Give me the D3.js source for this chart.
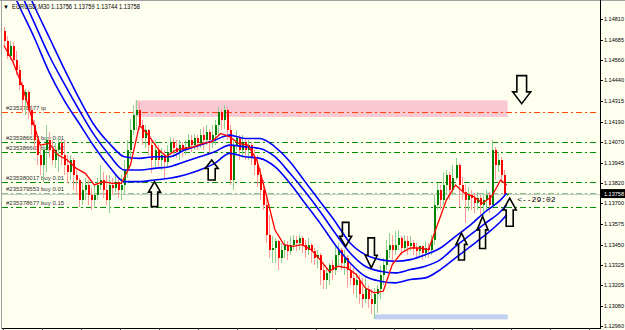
<!DOCTYPE html>
<html lang="en">
<head>
<meta charset="UTF-8" />
<title>EURUSD,M30</title>
<style>
  body { margin: 0; background: #fffff0; }
  svg { display: block; font-family: "Liberation Sans", Arial, sans-serif; }
</style>
</head>
<body>
<script src="https://cdn.jsdelivr.net/npm/d3@7"></script>
<div id="app"></div>
<script>
// ---- data (prices) ----
const symbol = "EURUSD,M30";
const lastQuote = ["1.13756", "1.13759", "1.13744", "1.13758"];
const bidPrice = 1.13758;
const firstOpen = 1.1474;

const closes = [
  1.1468,1.1459,1.1465,1.1456,1.1450,1.1441,1.1432,1.1437,1.1426,1.1417,
  1.1408,1.1399,1.1393,1.1402,1.1408,1.1402,1.1396,1.1402,1.1406,1.1399,
  1.1393,1.1389,1.1396,1.1387,1.1384,1.1372,1.1378,1.1381,1.1375,1.1372,
  1.1375,1.1381,1.1384,1.1378,1.1372,1.1381,1.1379,1.1383,1.1378,1.1381,
  1.1390,1.1402,1.1414,1.1423,1.1426,1.1417,1.1409,1.1414,1.1405,1.1396,
  1.1402,1.1396,1.1399,1.1395,1.1401,1.1407,1.1403,1.1401,1.1405,1.1402,
  1.1404,1.1408,1.1405,1.1409,1.1406,1.1411,1.1408,1.1413,1.1408,1.1411,
  1.1417,1.1425,1.1420,1.1426,1.1414,1.1384,1.1405,1.1409,1.1402,1.1407,
  1.1402,1.1405,1.1397,1.1393,1.1387,1.1378,1.1369,1.1351,1.1342,1.1343,
  1.1347,1.1337,1.1342,1.1345,1.1341,1.1345,1.1348,1.1346,1.1349,1.1345,
  1.1342,1.1345,1.1341,1.1337,1.1339,1.1330,1.1324,1.1328,1.1333,1.1330,
  1.1339,1.1342,1.1334,1.1337,1.1330,1.1325,1.1321,1.1324,1.1315,1.1312,
  1.1318,1.1312,1.1309,1.1315,1.1318,1.1327,1.1333,1.1342,1.1345,1.1342,
  1.1345,1.1349,1.1343,1.1347,1.1344,1.1346,1.1343,1.1341,1.1344,1.1340,
  1.1343,1.1342,1.1348,1.1369,1.1378,1.1372,1.1381,1.1387,1.1378,1.1385,
  1.1393,1.1381,1.1377,1.1372,1.1375,1.1373,1.1370,1.1373,1.1369,1.1372,
  1.1375,1.1369,1.1402,1.1393,1.1396,1.1387,1.13756,1.13758
];
const highs = [
  1.1476,1.1471,1.1468,1.1467,1.1462,1.1453,1.1443,1.1439,1.1438,1.1429,
  1.1420,1.1411,1.1405,1.1405,1.1417,1.1413,1.1408,1.1406,1.1409,1.1408,
  1.1408,1.1399,1.1399,1.1397,1.1390,1.1385,1.1383,1.1385,1.1384,1.1379,
  1.1381,1.1385,1.1393,1.1389,1.1387,1.1387,1.1385,1.1387,1.1385,1.1387,
  1.1396,1.1408,1.1421,1.1429,1.1432,1.1431,1.1420,1.1417,1.1415,1.1408,
  1.1408,1.1405,1.1403,1.1402,1.1405,1.1410,1.1409,1.1408,1.1408,1.1407,
  1.1408,1.1412,1.1411,1.1412,1.1411,1.1415,1.1416,1.1417,1.1415,1.1417,
  1.1420,1.1428,1.1427,1.1429,1.1428,1.1417,1.1408,1.1414,1.1411,1.1411,
  1.1409,1.1408,1.1407,1.1402,1.1399,1.1391,1.1384,1.1375,1.1363,1.1350,
  1.1349,1.1348,1.1346,1.1348,1.1347,1.1350,1.1351,1.1350,1.1351,1.1350,
  1.1348,1.1349,1.1346,1.1343,1.1342,1.1340,1.1333,1.1331,1.1334,1.1336,
  1.1345,1.1346,1.1343,1.1342,1.1339,1.1334,1.1331,1.1328,1.1327,1.1325,
  1.1325,1.1321,1.1318,1.1319,1.1321,1.1333,1.1337,1.1348,1.1352,1.1351,
  1.1353,1.1354,1.1350,1.1351,1.1350,1.1350,1.1348,1.1346,1.1345,1.1345,
  1.1347,1.1346,1.1351,1.1375,1.1382,1.1381,1.1389,1.1390,1.1389,1.1393,
  1.1397,1.1394,1.1386,1.1381,1.1380,1.1378,1.1376,1.1377,1.1375,1.1375,
  1.1378,1.1377,1.1408,1.1404,1.1401,1.1398,1.1390,1.13759
];
const lows = [
  1.1465,1.1457,1.1456,1.1453,1.1447,1.1438,1.1425,1.1423,1.1421,1.1411,
  1.1402,1.1393,1.1387,1.1383,1.1389,1.1397,1.1393,1.1391,1.1389,1.1393,
  1.1387,1.1382,1.1384,1.1378,1.1375,1.1368,1.1369,1.1372,1.1369,1.1366,
  1.1367,1.1372,1.1378,1.1373,1.1369,1.1364,1.1375,1.1377,1.1373,1.1372,
  1.1375,1.1385,1.1396,1.1411,1.1414,1.1414,1.1405,1.1403,1.1399,1.1388,
  1.1392,1.1391,1.1390,1.1385,1.1391,1.1399,1.1399,1.1397,1.1396,1.1398,
  1.1399,1.1402,1.1401,1.1402,1.1402,1.1403,1.1402,1.1405,1.1400,1.1403,
  1.1405,1.1411,1.1414,1.1415,1.1408,1.1381,1.1378,1.1402,1.1396,1.1397,
  1.1396,1.1396,1.1393,1.1387,1.1380,1.1372,1.1366,1.1346,1.1337,1.1334,
  1.1334,1.1330,1.1334,1.1337,1.1336,1.1339,1.1342,1.1341,1.1342,1.1340,
  1.1337,1.1339,1.1334,1.1333,1.1331,1.1321,1.1318,1.1318,1.1321,1.1324,
  1.1327,1.1333,1.1330,1.1327,1.1319,1.1321,1.1315,1.1313,1.1309,1.1307,
  1.1310,1.1307,1.1303,1.1300,1.1304,1.1312,1.1321,1.1330,1.1337,1.1334,
  1.1339,1.1342,1.1339,1.1341,1.1339,1.1341,1.1339,1.1337,1.1338,1.1336,
  1.1337,1.1337,1.1339,1.1345,1.1366,1.1366,1.1369,1.1375,1.1372,1.1375,
  1.1384,1.1368,1.1372,1.1358,1.1365,1.1366,1.1364,1.1366,1.1363,1.1362,
  1.1366,1.1364,1.1367,1.1384,1.1389,1.1382,1.1375,1.13744
];

// fast MA (red), read every 3rd bar + last bar
const redMA = [
  1.1465,1.1455,1.1441,1.1423,1.1405,1.1406,1.1399,1.1396,1.1391,1.1388,
  1.1381,1.1383,1.1382,1.1382,1.1393,1.1417,1.1411,1.1403,1.1398,1.1402,
  1.1403,1.1404,1.1406,1.1407,1.1412,1.1410,1.1406,1.1405,1.1396,1.1376,
  1.1354,1.1345,1.1344,1.1345,1.1342,1.1336,1.1329,1.1332,1.1331,1.1327,
  1.1319,1.1316,1.1317,1.1333,1.1340,1.1343,1.1343,1.1342,1.1357,1.1372,
  1.1381,1.1376,1.1374,1.1370,1.1374,1.1384,1.1381
];
// blue channel, read every 5th bar + last bar
const bandUpper = [
  1.1529,1.1509,1.1489,1.1470,1.1451,1.1433,1.1417,1.1406,1.1398,1.1397,
  1.1398,1.1398,1.1402,1.1405,1.1408,1.1411,1.1409,1.1409,1.1404,1.1395,
  1.1383,1.1371,1.1359,1.1346,1.1339,1.1336,1.1335,1.1336,1.1339,1.1343,
  1.1350,1.1357,1.1365,1.1372,1.1376
];
const bandMiddle = [
  1.1519,1.1499,1.1479,1.1459,1.1442,1.1426,1.1411,1.1399,1.1390,1.1390,
  1.1391,1.1392,1.1395,1.1398,1.1401,1.1405,1.1404,1.1403,1.1398,1.1388,
  1.1377,1.1365,1.1352,1.1340,1.1332,1.1329,1.1328,1.1330,1.1332,1.1336,
  1.1344,1.1351,1.1358,1.1365,1.1369
];
const bandLower = [
  1.1509,1.1489,1.1470,1.1449,1.1432,1.1418,1.1404,1.1392,1.1383,1.1383,
  1.1384,1.1385,1.1387,1.1390,1.1394,1.1400,1.1398,1.1397,1.1392,1.1382,
  1.1370,1.1358,1.1345,1.1334,1.1326,1.1323,1.1322,1.1324,1.1325,1.1330,
  1.1337,1.1344,1.1351,1.1359,1.1363
];

// trade levels
const orderPrices = [1.1425, 1.1407, 1.1401, 1.1383, 1.1376, 1.1368];
const orderLabels = ["#235378677 tp", "#235386613 buy 0.01", "#235386602 buy 0.02",
                     "#235380017 buy 0.01", "#235379553 buy 0.01", "#235378677 buy 0.15"];
const orderKinds = ["tp", "buy", "buy", "buy", "bid", "buy"];

// zones (bar range, price range)
const zoneBars = [[44, 167], [123.5, 167]];
const zonePrices = [[1.1422, 1.1432], [1.1300, 1.1303]];

// arrows: bar, tip price, direction
const arrowBars = [50, 69, 152, 159, 168, 113.5, 122, 172];
const arrowPrices = [1.1383, 1.1396, 1.1352, 1.1362, 1.1373, 1.1344, 1.1331, 1.1430];
const arrowDirs = ["up", "up", "up", "up", "up", "down", "down", "down"];

const priceTicks = ["1.14810","1.14685","1.14560","1.14440","1.14315","1.14190","1.14070","1.13945",
                    "1.13820","1.13700","1.13575","1.13450","1.13325","1.13205","1.13080","1.12960"];
const timeTickBars = d3.range(0, 196, 13);
const countdown = "<--29:02";

// ---- canvas ----
const w = 625, h = 330;
const svg = d3.select("#app").append("svg")
  .attr("width", w).attr("height", h)
  .style("background", "#fffff0");

const x = d3.scaleLinear().domain([0, 167]).range([4, 506.67]);
const y = d3.scaleLinear().domain([1.12960, 1.14810]).range([326, 19]);

svg.append("clipPath").attr("id", "plotClip")
  .append("rect").attr("x", 2).attr("y", 1).attr("width", 598).attr("height", 327);

const plot = svg.append("g").attr("clip-path", "url(#plotClip)");

// zones
const zoneColors = ["#f9c8d3", "#c0cff2"];
plot.selectAll("rect.zone")
  .data(zoneBars)
  .enter().append("rect")
  .attr("class", "zone")
  .attr("x", d => x(d[0]) - 1)
  .attr("width", d => x(d[1]) - x(d[0]) + 2)
  .attr("y", (d, i) => y(zonePrices[i][1]))
  .attr("height", (d, i) => y(zonePrices[i][0]) - y(zonePrices[i][1]))
  .attr("fill", (d, i) => zoneColors[i]);

// bid line
plot.append("line")
  .attr("x1", 2).attr("x2", 600)
  .attr("y1", Math.round(y(bidPrice)) + 0.5).attr("y2", Math.round(y(bidPrice)) + 0.5)
  .attr("stroke", "#c4ccc4").attr("stroke-width", 1);

// order lines + labels
const lineColor = { tp: "#ff4500", buy: "#009000", bid: "#8cc48c" };
plot.selectAll("line.order")
  .data(orderPrices)
  .enter().append("line")
  .attr("class", "order")
  .attr("x1", 2).attr("x2", 598)
  .attr("y1", d => Math.round(y(d)) + 0.5)
  .attr("y2", d => Math.round(y(d)) + 0.5)
  .attr("stroke", (d, i) => lineColor[orderKinds[i]])
  .attr("stroke-width", 1)
  .attr("stroke-dasharray", "6,3,2,3");

plot.selectAll("text.order")
  .data(orderPrices)
  .enter().append("text")
  .attr("class", "order")
  .attr("x", 6)
  .attr("y", d => y(d) - 2)
  .attr("font-size", 6)
  .attr("fill", "#333")
  .text((d, i) => orderLabels[i]);

// candles
const bars = closes.map((c, i) => ({ i, o: i ? closes[i - 1] : firstOpen, hi: highs[i], lo: lows[i], c }));
const candles = plot.append("g").attr("shape-rendering", "crispEdges");

candles.selectAll("line")
  .data(bars)
  .enter().append("line")
  .attr("x1", d => Math.round(x(d.i)) + 0.5)
  .attr("x2", d => Math.round(x(d.i)) + 0.5)
  .attr("y1", d => y(d.hi))
  .attr("y2", d => y(d.lo))
  .attr("stroke", d => d.c >= d.o ? "#8fcf8f" : "#ff9a9a")
  .attr("stroke-width", 1);

candles.selectAll("rect")
  .data(bars)
  .enter().append("rect")
  .attr("x", d => Math.round(x(d.i)))
  .attr("width", 2)
  .attr("y", d => y(Math.max(d.o, d.c)))
  .attr("height", d => Math.max(1, Math.abs(y(d.o) - y(d.c))))
  .attr("fill", d => d.c >= d.o ? "#008000" : "#ff0000");

// moving averages
const redBars = d3.range(0, 166, 3).concat([167]);
const bandBars = d3.range(0, 166, 5).concat([167]);

const lineGen = d3.line().x(d => x(d[0])).y(d => y(d[1]));
const bandGen = d3.line().x(d => x(d[0])).y(d => y(d[1])).curve(d3.curveMonotoneX);

[bandUpper, bandMiddle, bandLower].forEach(band => {
  plot.append("path")
    .datum(band.map((v, k) => [bandBars[k], v]))
    .attr("d", bandGen)
    .attr("fill", "none")
    .attr("stroke", "#0000ff")
    .attr("stroke-width", 1.6);
});

plot.append("path")
  .datum(redMA.map((v, k) => [redBars[k], v]))
  .attr("d", lineGen)
  .attr("fill", "none")
  .attr("stroke", "#ff0000")
  .attr("stroke-width", 1.3);

// arrows (hollow block arrows)
const arrowSize = [[12, 25], [13, 20], [11, 27], [11, 32], [13, 28], [12, 24], [12, 30], [18, 28]];
function arrowPath(wd, ht, dir) {
  const s = dir === "up" ? 1 : -1;
  const hh = ht * 0.42, sw = wd * 0.27;
  const pts = [[0, 0], [wd / 2, hh], [sw, hh], [sw, ht], [-sw, ht], [-sw, hh], [-wd / 2, hh]];
  return "M" + pts.map(p => p[0] + "," + (s * p[1])).join("L") + "Z";
}
svg.selectAll("path.arrow")
  .data(arrowBars)
  .enter().append("path")
  .attr("class", "arrow")
  .attr("transform", (d, i) => "translate(" + x(d) + "," + y(arrowPrices[i]) + ")")
  .attr("d", (d, i) => arrowPath(arrowSize[i][0], arrowSize[i][1], arrowDirs[i]))
  .attr("fill", "none")
  .attr("stroke", "#000")
  .attr("stroke-width", 1.6)
  .attr("stroke-linejoin", "miter");

// countdown text
svg.append("text")
  .attr("x", x(170.5))
  .attr("y", y(bidPrice) + 8.5)
  .attr("font-family", "'Liberation Mono', monospace")
  .attr("font-size", 8)
  .attr("fill", "#000")
  .text(countdown);

// frame
svg.append("line").attr("x1", 0).attr("x2", w).attr("y1", 0.5).attr("y2", 0.5).attr("stroke", "#a0a0a0");
svg.append("line").attr("x1", 1.5).attr("x2", 1.5).attr("y1", 0).attr("y2", 329).attr("stroke", "#a0a0a0");
svg.append("line").attr("x1", 600.5).attr("x2", 600.5).attr("y1", 0).attr("y2", 329).attr("stroke", "#000");
svg.append("line").attr("x1", 2).attr("x2", 601).attr("y1", 328.5).attr("y2", 328.5).attr("stroke", "#000");

// time ticks
svg.selectAll("line.tt")
  .data(timeTickBars)
  .enter().append("line")
  .attr("class", "tt")
  .attr("x1", d => Math.round(x(d) - 1.5) + 0.5)
  .attr("x2", d => Math.round(x(d) - 1.5) + 0.5)
  .attr("y1", 328).attr("y2", 331)
  .attr("stroke", "#333");

// price axis
svg.selectAll("line.pt")
  .data(priceTicks)
  .enter().append("line")
  .attr("class", "pt")
  .attr("x1", 600).attr("x2", 603)
  .attr("y1", d => Math.round(y(+d)) + 0.5)
  .attr("y2", d => Math.round(y(+d)) + 0.5)
  .attr("stroke", "#000");

svg.selectAll("text.pt")
  .data(priceTicks)
  .enter().append("text")
  .attr("class", "pt")
  .attr("x", 604)
  .attr("y", d => y(+d) + 2)
  .attr("font-size", 6)
  .attr("textLength", 20)
  .attr("lengthAdjust", "spacingAndGlyphs")
  .attr("fill", "#000")
  .text(d => d);

// current price tag
svg.append("rect")
  .attr("x", 601).attr("y", y(bidPrice) - 4.5)
  .attr("width", 24).attr("height", 9)
  .attr("fill", "#000");
svg.append("text")
  .attr("x", 604).attr("y", y(bidPrice) + 2)
  .attr("font-size", 6)
  .attr("textLength", 20)
  .attr("lengthAdjust", "spacingAndGlyphs")
  .attr("fill", "#fff")
  .text(d3.format(".5f")(bidPrice));

// title
svg.append("text")
  .attr("x", 3).attr("y", 9)
  .attr("font-size", 6)
  .attr("fill", "#000")
  .text("\u25BC");
svg.append("text")
  .attr("x", 12).attr("y", 9)
  .attr("font-size", 7)
  .attr("textLength", 128)
  .attr("lengthAdjust", "spacingAndGlyphs")
  .attr("fill", "#000")
  .text(symbol + "  " + lastQuote.join(" "));
</script>
</body>
</html>
